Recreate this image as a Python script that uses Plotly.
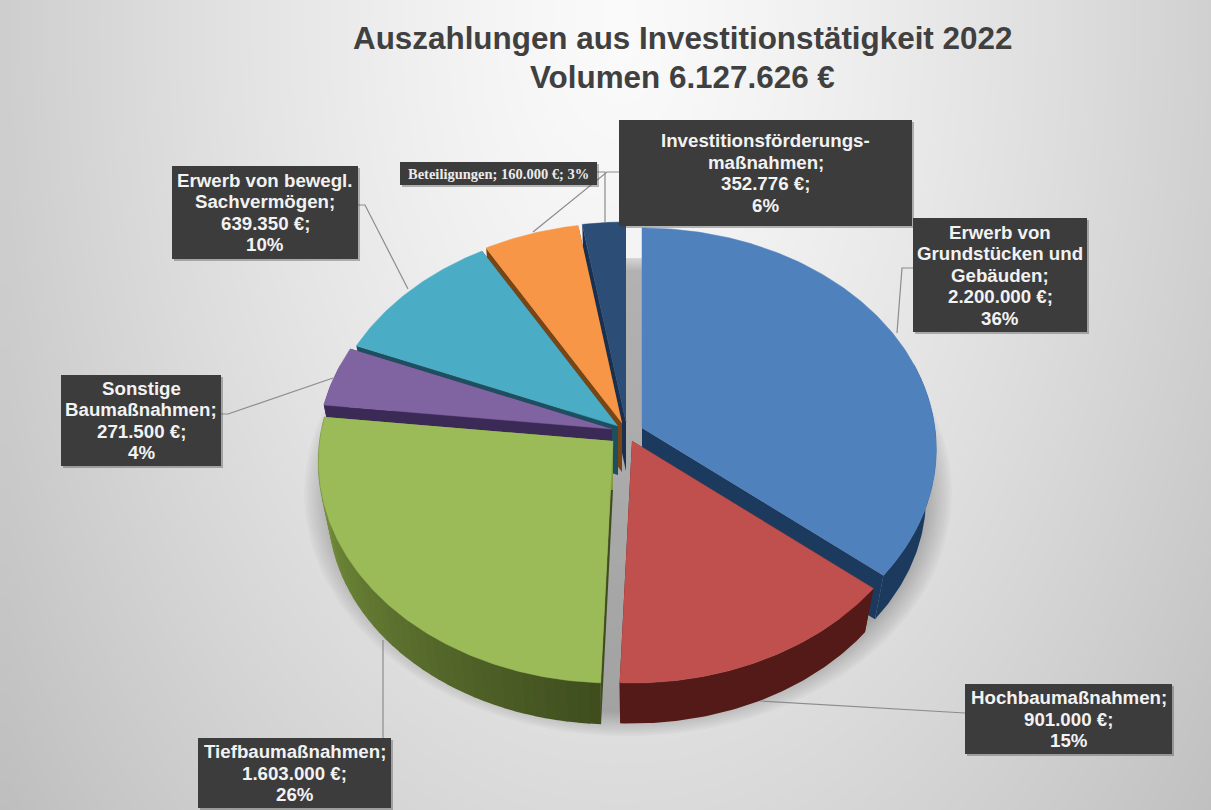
import numpy as np
import plotly.graph_objects as go

# ---------- data ----------
categories = ["Erwerb von Grundstücken und Gebäuden", "Hochbaumaßnahmen", "Tiefbaumaßnahmen",
              "Sonstige Baumaßnahmen", "Erwerb von bewegl. Sachvermögen",
              "Investitionsförderungsmaßnahmen", "Beteiligungen"]
values = [2200000, 901000, 1603000, 271500, 639350, 352776, 160000]
title_lines = ["Auszahlungen aus Investitionstätigkeit 2022", "Volumen 6.127.626 €"]
label_texts = [["Erwerb von", "Grundstücken und", "Gebäuden;", "2.200.000 €;", "36%"],
               ["Hochbaumaßnahmen;", "901.000 €;", "15%"],
               ["Tiefbaumaßnahmen;", "1.603.000 €;", "26%"],
               ["Sonstige", "Baumaßnahmen;", "271.500 €;", "4%"],
               ["Erwerb von bewegl.", "Sachvermögen;", "639.350 €;", "10%"],
               ["Investitionsförderungs-", "maßnahmen;", "352.776 €;", "6%"],
               ["Beteiligungen; 160.000 €; 3%"]]

# ---------- styles / layout ----------
top_colors = ["#4f81bd", "#c0504d", "#9bbb59", "#8064a2", "#4bacc6", "#f79646", "#2c4d75"]
wall_left = ["#1b3a5e", "#541a18", "#7f9c42", "#3a2a55", "#1d4f60", "#7a4515", "#1a3050"]
wall_right = ["#1b3a5e", "#541a18", "#3f4d1e", "#3a2a55", "#1d4f60", "#7a4515", "#1a3050"]
apex = [(642, 428), (632, 441), (613, 441), (612, 429), (618, 426), (622, 423), (626, 422)]
draw_order = [6, 5, 4, 3, 0, 2, 1]
R, RK, P, DEPTH, SHRINK = 293, 219, 0.095, 49, 0.965
boxes = [(913, 218, 1087, 332), (965, 684, 1172, 754), (198, 738, 391, 808), (61, 375, 221, 466),
         (172, 166, 358, 259), (619, 120, 912, 226), (400, 162, 597, 185)]
leaders = [[(913, 268), (902, 268), (897, 333)], [(965, 713), (760, 701)], [(383, 738), (383, 640)],
           [(221, 414), (228, 414), (333, 378)], [(358, 205), (365, 205), (408, 289)],
           [(619, 172), (607, 172), (533, 232)], [(597, 172), (605, 172), (605, 222)]]
LINE_H = 21.5


def proj(deg, c, scale=1.0):
    t = np.radians(deg)
    X, Y = np.sin(t), np.cos(t)
    s = 1 / (1 + P * Y)
    return c[0] + X * R * s * scale, c[1] - Y * RK * s * scale


def drop(x, y, c):
    return c[0] + (x - c[0]) * SHRINK, c[1] + (y - c[1]) * SHRINK + DEPTH


def poly(xs, ys, color, opacity=1.0, lw=0.7):
    return go.Scatter(x=list(xs), y=list(ys), mode="lines", fill="toself", fillcolor=color,
                      line=dict(color=color, width=lw), opacity=opacity,
                      hoverinfo="skip", showlegend=False)


def mix(a, b, f):
    ca = [int(a[i:i + 2], 16) for i in (1, 3, 5)]
    cb = [int(b[i:i + 2], 16) for i in (1, 3, 5)]
    return "rgb(%d,%d,%d)" % tuple(round(p + (q - p) * f) for p, q in zip(ca, cb))


fig = go.Figure()

# background gradient
gx = np.linspace(9, 1211, 61)
gy = np.linspace(10, 810, 41)
GX, GY = np.meshgrid(gx, gy)
r = np.sqrt(((GX - 620) / 800) ** 2 + ((GY - 30) / 1300) ** 2)
fig.add_trace(go.Heatmap(x=gx, y=gy, z=250 - 62 * r ** 1.3, zmin=0, zmax=255, zsmooth="best",
                         colorscale=[[0, "#000000"], [1, "#ffffff"]], showscale=False, hoverinfo="skip"))

# soft shadow beneath the pie
t = np.linspace(0, 360, 181)
for k in range(12):
    f = 1.10 - k * 0.009
    sx, sy = proj(t, (628, 470), f)
    fig.add_trace(poly(np.clip(sx, 300, 953), np.clip(sy, 258, 745), "#000000", 0.022, 0))

# slices, computed from the values
total = sum(values)
edges = np.concatenate([[0.0], np.cumsum(values)]) / total * 360
for i in draw_order:
    a0, a1 = edges[i], edges[i + 1]
    c = apex[i]
    ang = np.linspace(a0, a1, max(8, int((a1 - a0) * 1.5)))
    xt, yt = proj(ang, c)
    xb, yb = drop(xt, yt, c)
    cb = drop(c[0], c[1], c)
    # radial walls
    fig.add_trace(poly([c[0], xt[0], xb[0], cb[0]], [c[1], yt[0], yb[0], cb[1]], wall_right[i], 1.0, 0))
    fig.add_trace(poly([c[0], xt[-1], xb[-1], cb[0]], [c[1], yt[-1], yb[-1], cb[1]], wall_left[i], 1.0, 0))
    # outer wall, front-facing part only; only the shaded slice needs segments
    front = np.cos(np.radians(ang)) < 0.3
    idx = np.where(front)[0]
    if len(idx) >= 2:
        ja, jb = idx[0], idx[-1]
        uniform = wall_left[i] == wall_right[i]
        step = (jb - ja) if uniform else max(1, (jb - ja) // 40)
        for j in range(ja, jb, step):
            e = min(j + step, jb)
            f = ((ang[j] + ang[e]) / 2 - a0) / max(a1 - a0, 1e-6)
            col = mix(wall_right[i], wall_left[i], f)
            fig.add_trace(poly(list(xt[j:e + 1]) + list(xb[j:e + 1][::-1]),
                               list(yt[j:e + 1]) + list(yb[j:e + 1][::-1]), col, 1.0, 0 if uniform else 1.6))
    # top face
    fig.add_trace(poly([c[0]] + list(xt), [c[1]] + list(yt), top_colors[i], 1.0, 0.5))

# leader lines
for path in leaders:
    fig.add_trace(go.Scatter(x=[p[0] for p in path], y=[p[1] for p in path], mode="lines",
                             line=dict(color="#8c8c8c", width=1.2), hoverinfo="skip", showlegend=False))

# label boxes
shapes = []
annotations = []
for i, (x0, y0, x1, y1) in enumerate(boxes):
    shapes.append(dict(type="rect", x0=x0 + 2, y0=y0 + 2, x1=x1 + 2, y1=y1 + 2, line_width=0,
                       fillcolor="rgba(60,60,60,0.35)", layer="above"))
    shapes.append(dict(type="rect", x0=x0, y0=y0, x1=x1, y1=y1, line_width=0,
                       fillcolor="#3c3c3c", layer="above"))
    small = i == 6
    lines = label_texts[i]
    yc = (y0 + y1) / 2
    for k, line in enumerate(lines):
        annotations.append(dict(x=(x0 + x1) / 2, y=yc + (k - (len(lines) - 1) / 2) * LINE_H, text=line,
                                showarrow=False, xanchor="center", yanchor="middle", align="center",
                                font=dict(family="Liberation Serif" if small else "Liberation Sans",
                                          size=14.5 if small else 18.7,
                                          color="#ebebeb" if small else "#f2f2f2",
                                          weight="bold")))
for y, line in zip([38, 77], title_lines):
    annotations.append(dict(x=682, y=y, text=line, showarrow=False, xanchor="center", yanchor="middle",
                            font=dict(family="Liberation Sans", size=31.4, color="#404040", weight="bold")))

fig.update_layout(
    width=1211, height=810, margin=dict(l=0, r=0, t=0, b=0), paper_bgcolor="#ffffff",
    plot_bgcolor="#ffffff", showlegend=False, shapes=shapes, annotations=annotations,
    xaxis=dict(range=[0, 1211], visible=False, fixedrange=True),
    yaxis=dict(range=[810, 0], visible=False, fixedrange=True),
)
fig.write_html("out.html", config={"displayModeBar": False},
               post_script="document.body.style.margin='0';document.body.style.overflow='hidden';")
